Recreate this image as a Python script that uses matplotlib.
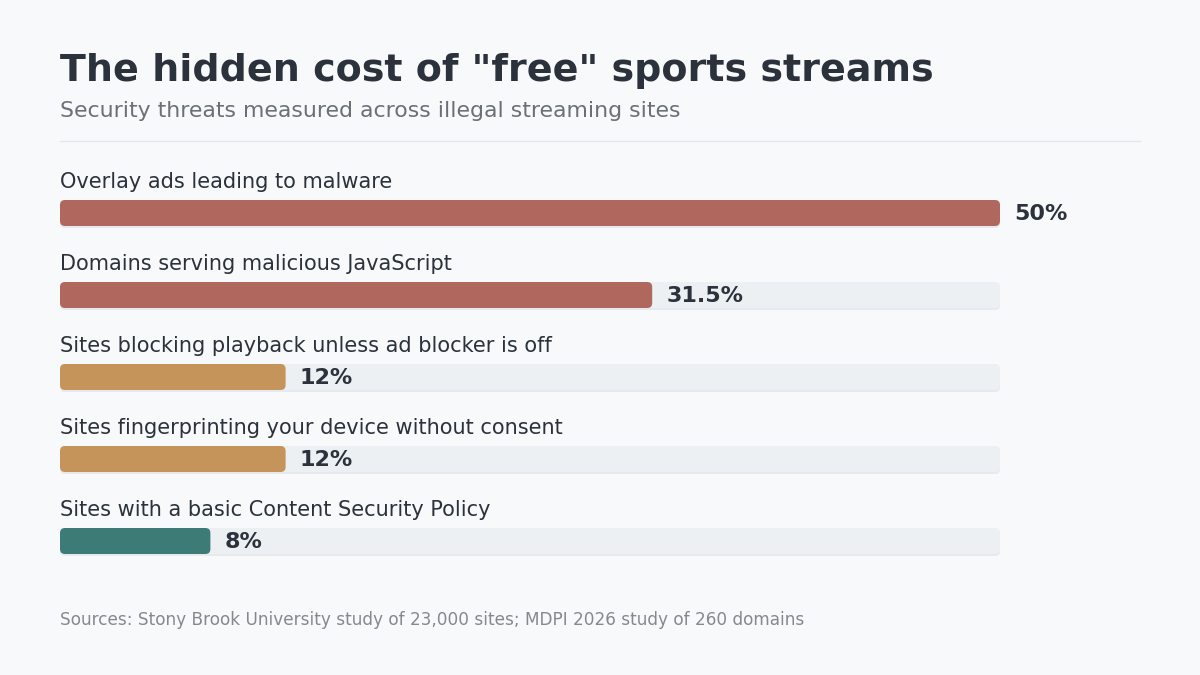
import matplotlib.pyplot as plt
from matplotlib.patches import FancyBboxPatch

plt.rcParams['font.family'] = ['DejaVu Sans']

# data
categories = [
    "Overlay ads leading to malware",
    "Domains serving malicious JavaScript",
    "Sites blocking playback unless ad blocker is off",
    "Sites fingerprinting your device without consent",
    "Sites with a basic Content Security Policy",
]
values = [50, 31.5, 12, 12, 8]
value_labels = ["50%", "31.5%", "12%", "12%", "8%"]
bar_colors = ["#b0685e", "#b0685e", "#c4945a", "#c4945a", "#3d7c76"]
scale_max = 50

bg = "#f7f9fb"
dark = "#2b323b"
grey = "#6b7078"

W, H = 1200, 675
fig = plt.figure(figsize=(12, 6.75), dpi=100, facecolor=bg)

# title block
fig.text(60 / W, 1 - 81 / H, 'The hidden cost of "free" sports streams',
         fontsize=27.4, fontweight="bold", color=dark, va="baseline")
fig.text(60 / W, 1 - 117 / H, "Security threats measured across illegal streaming sites",
         fontsize=15.8, color=grey, va="baseline")
fig.add_artist(plt.Line2D([60 / W, 1140 / W], [1 - 141 / H, 1 - 141 / H],
                          color="#e3e6ea", lw=1))
fig.text(60 / W, 1 - 625 / H,
         "Sources: Stony Brook University study of 23,000 sites; MDPI 2026 study of 260 domains",
         fontsize=12.2, color="#85898f", va="baseline")

# bar axes: 940 px wide, 82 px per row
row_px = 82
top_px = 213 - row_px * 1.0
bot_px = 213 + row_px * 4.6
ax = fig.add_axes([60 / W, 1 - bot_px / H, 940 / W, (bot_px - top_px) / H])
ax.set_xlim(0, scale_max)
ax.set_ylim(4.6, -1.0)
ax.axis("off")
ax.patch.set_visible(False)

bar_h = 26 / row_px
x_per_px = scale_max / 940
aspect = (1 / row_px) / x_per_px
rnd = 5 * x_per_px

for i, (cat, v, lab, c) in enumerate(zip(categories, values, value_labels, bar_colors)):
    # soft shadow under the track
    ax.add_patch(FancyBboxPatch((0, i - bar_h / 2 + 2 / row_px), scale_max, bar_h,
                                boxstyle=f"round,pad=0,rounding_size={rnd}",
                                mutation_aspect=aspect, fc="#e6e9ed", ec="none", zorder=0.5))
    # track
    ax.add_patch(FancyBboxPatch((0, i - bar_h / 2), scale_max, bar_h,
                                boxstyle=f"round,pad=0,rounding_size={rnd}",
                                mutation_aspect=aspect, fc="#edf0f3", ec="none", zorder=1))
    # value bar
    ax.add_patch(FancyBboxPatch((0, i - bar_h / 2), v, bar_h,
                                boxstyle=f"round,pad=0,rounding_size={rnd}",
                                mutation_aspect=aspect, fc=c, ec="none", zorder=2))
    ax.text(0, i - bar_h / 2 - 12 / row_px, cat, fontsize=15, color=dark,
            va="baseline", ha="left")
    ax.text(v + 14 * x_per_px, i + 1 / row_px, lab, fontsize=16, fontweight="bold",
            color=dark, va="center", ha="left")

fig.savefig("out.png", dpi=100, facecolor=bg)
